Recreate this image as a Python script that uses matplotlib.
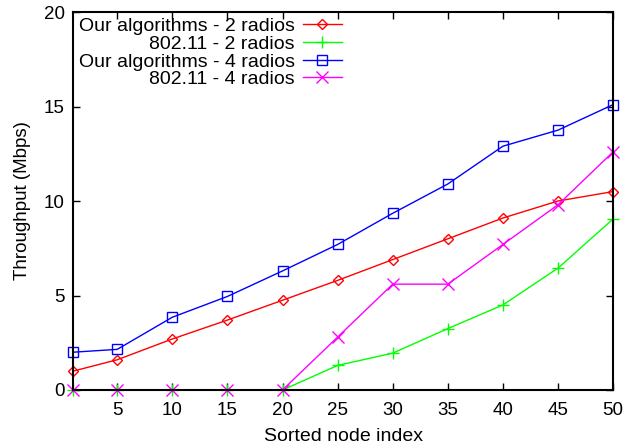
import matplotlib
matplotlib.use("Agg")
import matplotlib.pyplot as plt

plt.rcParams['font.family'] = ['Liberation Sans', 'DejaVu Sans']

x = [1, 5, 10, 15, 20, 25, 30, 35, 40, 45, 50]
ours_2 = [1.0, 1.6, 2.7, 3.7, 4.75, 5.8, 6.9, 8.0, 9.1, 10.0, 10.5]
std_2 = [0, 0, 0, 0, 0, 1.3, 1.95, 3.25, 4.5, 6.45, 9.05]
ours_4 = [2.0, 2.15, 3.85, 4.95, 6.3, 7.7, 9.35, 10.9, 12.9, 13.75, 15.1]
std_4 = [0, 0, 0, 0, 0, 2.8, 5.6, 5.6, 7.7, 9.8, 12.6]
labels = ["Our algorithms - 2 radios", "802.11 - 2 radios",
          "Our algorithms - 4 radios", "802.11 - 4 radios"]
xticks = [5, 10, 15, 20, 25, 30, 35, 40, 45, 50]
yticks = [0, 5, 10, 15, 20]

fig = plt.figure(figsize=(6.36, 4.45), dpi=100)
ax = fig.add_axes([0.115, 0.1236, 0.849, 0.8494])

common = dict(lw=1, mew=1, clip_on=False)
ax.plot(x, ours_2, color='#ff0000', marker='D', ms=5.5, mfc='none', label=labels[0], **common)
ax.plot(x, std_2, color='#00ff00', marker='+', ms=9, label=labels[1], **common)
ax.plot(x, ours_4, color='#0000ff', marker='s', ms=7.5, mfc='none', label=labels[2], **common)
ax.plot(x, std_4, color='#ff00ff', marker='x', ms=8, label=labels[3], **common)

ax.set_xlim(1, 50)
ax.set_ylim(0, 20)
ax.set_xticks(xticks)
ax.set_yticks(yticks)
ax.tick_params(direction='in', top=True, right=True, length=5, width=1, labelsize=13.5)
ax.tick_params(axis='x', pad=9)
ax.tick_params(axis='y', pad=6)
for s in ax.spines.values():
    s.set_linewidth(1.5)
    s.set_zorder(5)

ax.set_xlabel("Sorted node index", fontsize=14, labelpad=6)
ax.set_ylabel("Throughput (Mbps)", fontsize=13.5, labelpad=9)

leg = ax.legend(loc='upper right', bbox_to_anchor=(0.497, 0.985), markerfirst=False,
                frameon=False, fontsize=14, handlelength=2.0, handletextpad=0.4,
                labelspacing=0.0, borderpad=0, borderaxespad=0)

fig.savefig("out.png", dpi=100)
